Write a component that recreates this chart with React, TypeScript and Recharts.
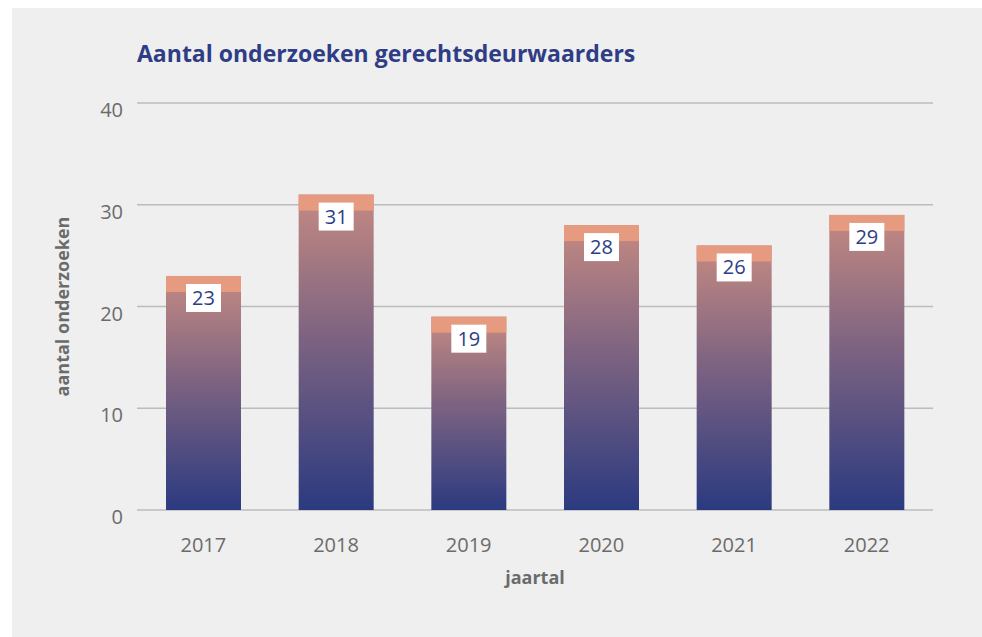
import { BarChart, Bar, XAxis, YAxis, CartesianGrid, LabelList } from "recharts";

const jaren = ["2017", "2018", "2019", "2020", "2021", "2022"];
const onderzoeken = [23, 31, 19, 28, 26, 29];
const yTicks = [0, 10, 20, 30, 40];

const data = jaren.map((jaar, i) => ({ jaar, aantal: onderzoeken[i] }));

const FONT = "'Open Sans', 'Noto Sans', sans-serif";
const BLUE = "#2e3d85";
const GRAY = "#6b6b6b";

// bar: salmon cap on top, gradient below
const GradientBar = (props: any) => {
  const { x, y, width, height } = props;
  if (!height || height <= 0) return null;
  const cap = 16;
  return (
    <g>
      <rect x={x} y={y} width={width} height={height} fill="url(#barGrad)" />
      <rect x={x} y={y} width={width} height={Math.min(cap, height)} fill="#e69a80" />
    </g>
  );
};

const ValueLabel = (props: any) => {
  const { x, y, width, value } = props;
  const cx = x + width / 2;
  return (
    <g>
      <rect x={cx - 17.5} y={y + 8} width={35} height={28} fill="#ffffff" />
      <text
        x={cx}
        y={y + 29}
        textAnchor="middle"
        fill={BLUE}
        fontFamily={FONT}
        fontSize={20}
      >
        {value}
      </text>
    </g>
  );
};

const YTick = (props: any) => {
  const { x, y, payload } = props;
  return (
    <text x={x} y={y + 14} textAnchor="end" fill={GRAY} fontFamily={FONT} fontSize={20}>
      {payload.value}
    </text>
  );
};

const XTick = (props: any) => {
  const { x, y, payload } = props;
  return (
    <text x={x} y={y + 34} textAnchor="middle" fill={GRAY} fontFamily={FONT} fontSize={20}>
      {payload.value}
    </text>
  );
};

export default function App() {
  return (
    <div
      style={{
        position: "fixed",
        left: 12,
        top: 8,
        width: 970,
        height: 629,
        background: "#efefef",
      }}
    >
      <div
        style={{
          position: "absolute",
          left: 125,
          top: 30,
          fontFamily: FONT,
          fontWeight: 700,
          fontSize: 23,
          color: BLUE,
          lineHeight: "30px",
          whiteSpace: "nowrap",
        }}
      >
        Aantal onderzoeken gerechtsdeurwaarders
      </div>
      <BarChart
        width={970}
        height={629}
        data={data}
        margin={{ top: 95, right: 49, left: 0, bottom: 0 }}
        style={{ position: "absolute", left: 0, top: 0 }}
      >
        <defs>
          <linearGradient id="barGrad" x1="0" y1="0" x2="0" y2="1">
            <stop offset="0%" stopColor="#c48a82" />
            <stop offset="45%" stopColor="#7d6381" />
            <stop offset="100%" stopColor="#2b3a80" />
          </linearGradient>
        </defs>
        <CartesianGrid vertical={false} stroke="#bcbcbc" strokeWidth={1.5} />
        <XAxis
          dataKey="jaar"
          axisLine={false}
          tickLine={false}
          tick={<XTick />}
          height={127}
          label={{
            value: "jaartal",
            position: "insideTop",
            offset: 61,
            fill: GRAY,
            fontFamily: FONT,
            fontWeight: 700,
            fontSize: 18,
          }}
        />
        <YAxis
          domain={[0, 40]}
          ticks={yTicks}
          axisLine={false}
          tickLine={false}
          tick={<YTick />}
          width={125}
          tickMargin={8}
          label={{
            value: "aantal onderzoeken",
            angle: -90,
            position: "insideLeft",
            offset: 51,
            fill: GRAY,
            fontFamily: FONT,
            fontWeight: 700,
            fontSize: 18,
            style: { textAnchor: "middle" },
          }}
        />
        <Bar dataKey="aantal" barSize={75} shape={<GradientBar />} isAnimationActive={false}>
          <LabelList dataKey="aantal" content={<ValueLabel />} />
        </Bar>
      </BarChart>
    </div>
  );
}
